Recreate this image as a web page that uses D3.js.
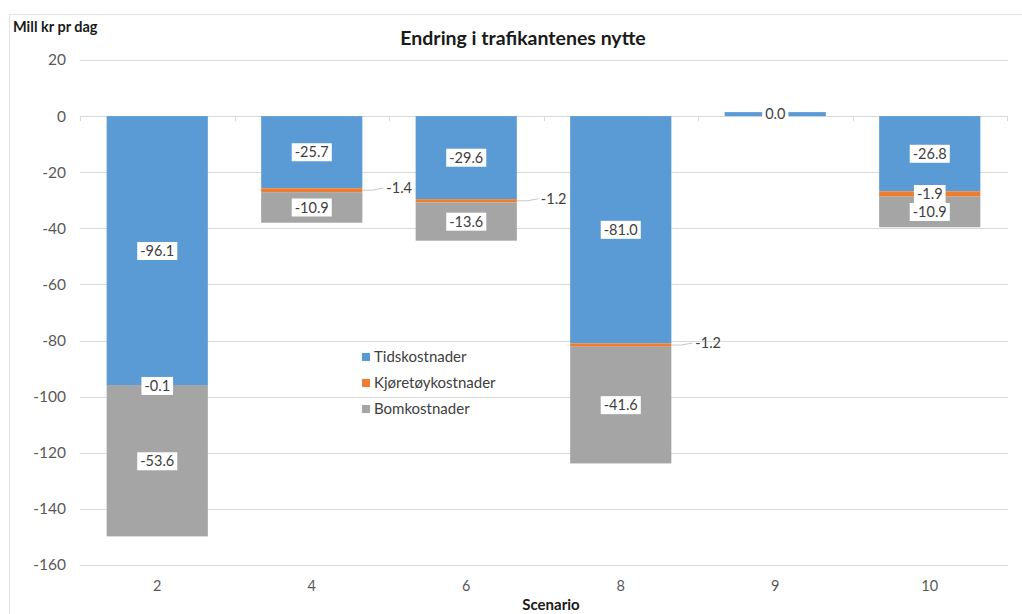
<!DOCTYPE html>
<html>
<head>
<meta charset="utf-8">
<script src="https://cdn.jsdelivr.net/npm/d3@7/dist/d3.min.js"></script>
<style>
  html, body { margin: 0; padding: 0; background: #fff; }
  svg { display: block; font-family: Lato, "Liberation Sans", sans-serif; }
</style>
</head>
<body>
<svg id="chart" width="1022" height="614"></svg>
<script>
// Scenarios along the x axis
const scenarios = ["2", "4", "6", "8", "9", "10"];

// Change in user costs, million NOK per day
const tidskostnader     = [-96.1, -25.7, -29.6, -81.0, 0.0, -26.8];
const kjoretoykostnader = [-0.1, -1.4, -1.2, -1.2, null, -1.9];
const bomkostnader      = [-53.6, -10.9, -13.6, -41.6, null, -10.9];

const seriesNames = ["Tidskostnader", "Kjøretøykostnader", "Bomkostnader"];
const yTicks = [20, 0, -20, -40, -60, -80, -100, -120, -140, -160];

// Which cost labels sit outside the bar with a leader line
const outsideLabel = [false, true, true, true, false, false];

const colors = ["#5B9BD5", "#ED7D31", "#A5A5A5"];
const seriesValues = [tidskostnader, kjoretoykostnader, bomkostnader];

const hyphen = s => s.replace("\u2212", "-");

const svg = d3.select("#chart");

// Outer frame
svg.append("rect")
  .attr("x", 9.5).attr("y", 14.5)
  .attr("width", 1030).attr("height", 620)
  .attr("fill", "none").attr("stroke", "#e3e3e3");

const x = d3.scaleBand().domain(scenarios).range([80, 1007]).paddingInner(0.345).paddingOuter(0.1725);
const y = d3.scaleLinear().domain([-160, 20]).range([565, 60]);

// Gridlines
svg.append("g").selectAll("line").data(yTicks).join("line")
  .attr("x1", 80).attr("x2", 1008)
  .attr("y1", d => Math.round(y(d)) + 0.5).attr("y2", d => Math.round(y(d)) + 0.5)
  .attr("stroke", "#d9d9d9").attr("stroke-width", 1);

// Y tick labels
const yAxis = d3.axisLeft(y).tickValues(yTicks).tickSize(0).tickPadding(0)
  .tickFormat(d => hyphen(d3.format("d")(d)));
const gy = svg.append("g").attr("transform", "translate(66,0)").call(yAxis);
gy.select(".domain").remove();
gy.selectAll("text")
  .attr("font-family", "Lato, 'Liberation Sans', sans-serif")
  .attr("font-size", 15.5).attr("fill", "#595959");

// Category tick marks on the zero line
const bounds = scenarios.map(s => x(s) - x.step() * x.paddingInner() / 2).concat([1007]);
svg.append("g").selectAll("line").data(bounds).join("line")
  .attr("x1", d => Math.round(d) + 0.5).attr("x2", d => Math.round(d) + 0.5)
  .attr("y1", y(0)).attr("y2", y(0) + 5)
  .attr("stroke", "#d9d9d9");

// X tick labels
const xAxis = d3.axisBottom(x).tickSize(0).tickPadding(0);
const gx = svg.append("g").attr("transform", "translate(0,581)").call(xAxis);
gx.select(".domain").remove();
gx.selectAll("text")
  .attr("font-family", "Lato, 'Liberation Sans', sans-serif")
  .attr("font-size", 14.5).attr("fill", "#595959");

// Stack segments downward from zero
const segments = [];
scenarios.forEach((s, i) => {
  let base = 0;
  seriesValues.forEach((vals, k) => {
    const v = vals[i];
    if (v === null) return;
    const y0 = base, y1 = base + v;
    segments.push({ s, i, k, v, y0, y1 });
    base = y1;
  });
});

// A zero-valued segment is still drawn as a thin sliver above the axis
const bars = svg.append("g");
bars.selectAll("rect").data(segments).join("rect")
  .attr("x", d => x(d.s))
  .attr("width", x.bandwidth())
  .attr("y", d => d.v === 0 ? y(0) - 4 : Math.min(y(d.y0), y(d.y1)))
  .attr("height", d => d.v === 0 ? 4 : Math.abs(y(d.y1) - y(d.y0)))
  .attr("fill", d => colors[d.k]);

// Data labels
const fmt = d3.format(".1f");
const labels = svg.append("g").attr("font-size", 14.5).attr("fill", "#404040");

segments.forEach(d => {
  const text = hyphen(fmt(d.v));
  const mid = d.v === 0 ? y(0) - 2 : (y(d.y0) + y(d.y1)) / 2;
  const outside = d.k === 1 && outsideLabel[d.i];
  if (outside) {
    const bx = x(d.s) + x.bandwidth();
    const tx = bx + 24;
    const ty = mid - 2;
    labels.append("path")
      .attr("d", `M${bx},${mid} L${bx + 10},${mid} L${tx - 3},${ty}`)
      .attr("fill", "none").attr("stroke", "#c8c8c8").attr("stroke-width", 1);
    labels.append("text")
      .attr("x", tx).attr("y", ty).attr("dy", "0.35em")
      .text(text);
  } else {
    const cx = x(d.s) + x.bandwidth() / 2;
    const t = labels.append("text")
      .attr("x", cx).attr("y", mid).attr("dy", "0.35em")
      .attr("text-anchor", "middle").text(text);
    const bb = t.node().getBBox();
    labels.insert("rect", () => t.node())
      .attr("x", bb.x - 3).attr("y", bb.y)
      .attr("width", bb.width + 6).attr("height", bb.height + 1)
      .attr("fill", "#fff");
  }
});

// Title and axis titles
svg.append("text")
  .attr("x", 523).attr("y", 45).attr("text-anchor", "middle")
  .attr("font-size", 19.5).attr("font-weight", "bold").attr("fill", "#1a1a1a")
  .text("Endring i trafikantenes nytte");

svg.append("text")
  .attr("x", 13).attr("y", 32)
  .attr("font-size", 14.5).attr("font-weight", "bold").attr("fill", "#1a1a1a")
  .text("Mill kr pr dag");

svg.append("text")
  .attr("x", 551).attr("y", 610).attr("text-anchor", "middle")
  .attr("font-size", 15).attr("font-weight", "bold").attr("fill", "#1a1a1a")
  .text("Scenario");

// Legend
const legend = svg.append("g").attr("transform", "translate(362,357)");
seriesNames.forEach((name, k) => {
  const g = legend.append("g").attr("transform", `translate(0,${k * 26})`);
  g.append("rect").attr("x", 0).attr("y", -4).attr("width", 8).attr("height", 8).attr("fill", colors[k]);
  g.append("text").attr("x", 12).attr("y", 0).attr("dy", "0.35em")
    .attr("font-size", 15).attr("fill", "#404040").text(name);
});
</script>
</body>
</html>
